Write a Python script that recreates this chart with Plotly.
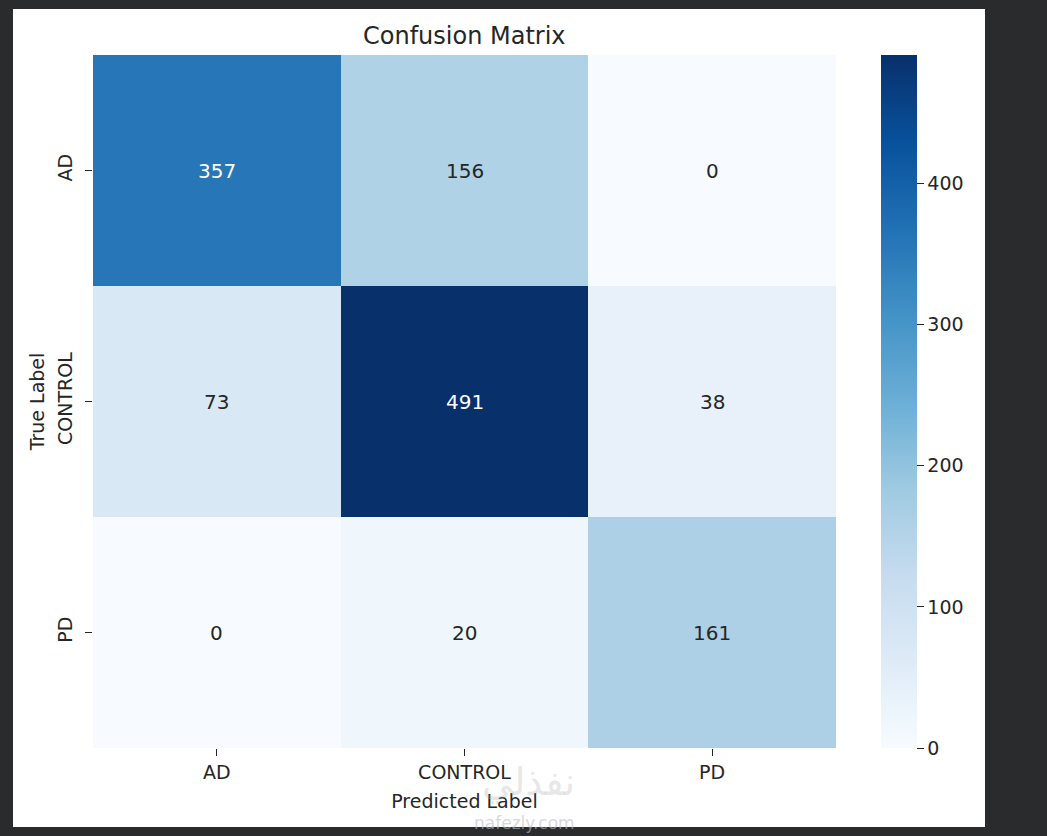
import plotly.graph_objects as go

labels = ["AD", "CONTROL", "PD"]
matrix = [
    [357, 156, 0],
    [73, 491, 38],
    [0, 20, 161],
]
cbar_ticks = [0, 100, 200, 300, 400]

blues = ["#f7fbff", "#deebf7", "#c6dbef", "#9ecae1", "#6baed6",
         "#4292c6", "#2171b5", "#08519c", "#08306b"]
colorscale = [[i / (len(blues) - 1), c] for i, c in enumerate(blues)]

zmax = max(max(r) for r in matrix)
text_colors = [["white" if v > zmax * 0.6 else "#262626" for v in row] for row in matrix]

W, H = 1047, 836
L, R, T, B = 93, 1047 - 836, 55, 836 - 748
pw, ph = W - L - R, H - T - B

def px_x(x):
    return (x - L) / pw

def px_y(y):
    return (H - B - y) / ph

fig = go.Figure(go.Heatmap(
    z=matrix, x=labels, y=labels,
    colorscale=colorscale, zmin=0, zmax=zmax,
    xgap=0, ygap=0,
    colorbar=dict(
        x=px_x(881), xanchor="left", y=0.5, yanchor="middle",
        len=1.0, lenmode="fraction", thickness=36, thicknessmode="pixels",
        outlinewidth=0, tickvals=cbar_ticks, ticks="outside", ticklen=7,
        tickprefix="&#160;&#160;",
        tickcolor="#262626", tickfont=dict(size=19, color="#262626"),
        xpad=0, ypad=0,
    ),
    hoverinfo="skip",
))

for i, row in enumerate(matrix):
    for j, v in enumerate(row):
        fig.add_annotation(x=labels[j], y=labels[i], text=str(v), showarrow=False,
                           font=dict(size=20, color=text_colors[i][j]))

fig.add_shape(type="rect", xref="paper", yref="paper",
              x0=px_x(13), x1=px_x(985), y0=px_y(827), y1=px_y(9),
              fillcolor="white", line=dict(width=0), layer="below")

fig.add_annotation(xref="paper", yref="paper", x=px_x(464), y=px_y(36),
                   xanchor="center", yanchor="middle",
                   text="Confusion Matrix", showarrow=False,
                   font=dict(size=24, color="#262626"))

# watermark
fig.add_annotation(xref="paper", yref="paper", x=px_x(528), y=px_y(782),
                   xanchor="center", yanchor="middle",
                   text="نفذلي", showarrow=False,
                   font=dict(size=38, color="rgba(170,170,170,0.30)", family="DejaVu Sans"))
fig.add_annotation(xref="paper", yref="paper", x=px_x(524), y=px_y(823),
                   xanchor="center", yanchor="middle",
                   text="nafezly.com", showarrow=False,
                   font=dict(size=17, color="rgba(190,190,190,0.6)"))

fig.update_layout(
    width=W, height=H,
    margin=dict(l=L, r=R, t=T, b=B),
    paper_bgcolor="#2a2b2d", plot_bgcolor="white",
    font=dict(family="DejaVu Sans", color="#262626", size=20),
    xaxis=dict(title=dict(text="Predicted Label", font=dict(size=19), standoff=12),
               ticks="outside", ticklen=7, tickcolor="#262626",
               showgrid=False, zeroline=False, showline=False,
               tickfont=dict(size=19)),
    yaxis=dict(title=dict(text="True Label", font=dict(size=19), standoff=4),
               autorange="reversed", ticks="outside", ticklen=7, tickcolor="#262626",
               showgrid=False, zeroline=False, showline=False, tickangle=-90,
               ticklabelstandoff=5,
               tickfont=dict(size=19)),
)

fig.write_html("out.html", config={"displayModeBar": False},
               post_script="document.body.style.margin='0';")
